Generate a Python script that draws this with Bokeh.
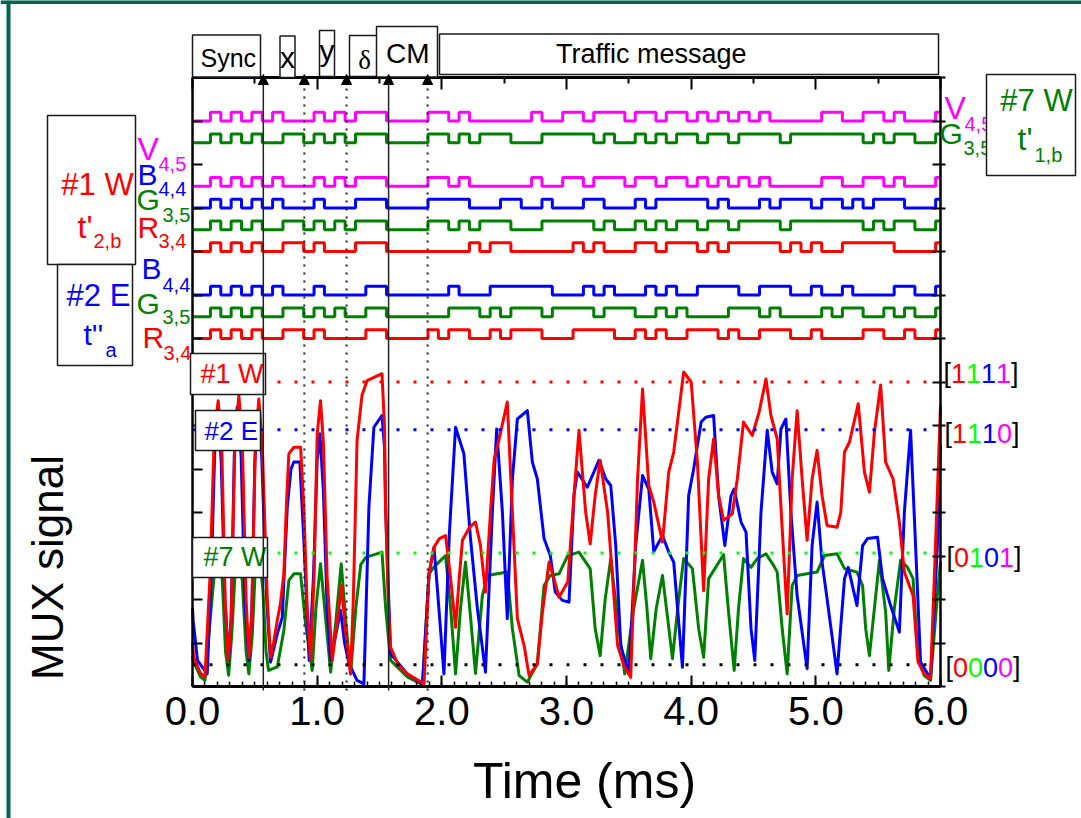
import numpy as np
from bokeh.plotting import figure
from bokeh.models import (Range1d, LinearAxis, FixedTicker, Label, BoxAnnotation,
                          Span, Arrow, NormalHead, PrintfTickFormatter)
from bokeh.embed import file_html
from bokeh.resources import INLINE

# ---------------------------------------------------------------- data
# bit clock of the digital (OOK) traces, in ms
bit_clock_start = 0.144
bit_clock_period = 0.0831
bit_first_index = -2          # first bit shown is index -2

# bit streams, bit index -2 ... 70
bits_V45 = "00" "1010101000" "1010111000" "0110100000" "0100110111" "0110110101" "0101000001" "1001101000" "1"
bits_G35 = "00" "1010100110" "1010111000" "0110101110" "0011111010" "0101011011" "0111101111" "1110101100" "1"
bits_B44_1W = "00" "1010101000" "1000111000" "0111100011" "0010001100" "0101111101" "0001011101" "1010111000" "1"
bits_R34_1W = "00" "1010100110" "1000111000" "0000010110" "0000010100" "0110111010" "1111101010" "0111110000" "1"
bits_B44_2E = "00" "1010101000" "1000011000" "0001000111" "1110001010" "0010100111" "1001110010" "0100001100" "1"
bits_G35_2E = "00" "1010100110" "1010011000" "0001110101" "1101111011" "1001010000" "1110100001" "0110010100" "1"
bits_R34_2E = "00" "1010100110" "1000011000" "0101100101" "1100011110" "0101001110" "1001110010" "0001100100" "1"

# analog MUX signals (time ms, signal)
mux_1W_t = [0.0, 0.01, 0.064, 0.1, 0.14, 0.175, 0.206, 0.235, 0.262, 0.286, 0.31, 0.34, 0.372, 0.40, 0.43, 0.452,
            0.475, 0.505, 0.532, 0.56, 0.60, 0.626, 0.65, 0.68, 0.705, 0.733, 0.755, 0.773, 0.813, 0.867, 0.893,
            0.92, 0.947, 0.975, 1.0, 1.027, 1.05, 1.08, 1.121, 1.16, 1.196, 1.23, 1.268, 1.29, 1.32, 1.36, 1.40,
            1.52, 1.54, 1.549, 1.57, 1.589, 1.65, 1.723, 1.857, 1.897, 1.937, 1.98, 2.03, 2.07, 2.11, 2.14, 2.165,
            2.22, 2.27, 2.31, 2.35, 2.39, 2.42, 2.46, 2.525, 2.566, 2.606, 2.66, 2.70, 2.766, 2.807, 2.86, 2.90,
            2.94, 3.01, 3.06, 3.10, 3.154, 3.19, 3.23, 3.27, 3.33, 3.37, 3.41, 3.46, 3.515, 3.57, 3.61, 3.66, 3.70,
            3.77, 3.82, 3.86, 3.94, 4.0, 4.05, 4.10, 4.14, 4.18, 4.22, 4.26, 4.33, 4.37, 4.42, 4.49, 4.545, 4.60,
            4.64, 4.69, 4.73, 4.77, 4.81, 4.85, 4.89, 4.93, 4.97, 5.01, 5.05, 5.09, 5.17, 5.20, 5.23, 5.27, 5.34,
            5.39, 5.43, 5.47, 5.52, 5.56, 5.62, 5.67, 5.71, 5.78, 5.82, 5.87, 5.92, 5.96, 6.0]
mux_1W_v = [1.0, 0.67, 0.30, 0.22, 2.5, 5.8, 6.57, 5.5, 2.0, 0.6, 1.5, 5.6, 6.69, 5.6, 2.0, 0.67,
            1.6, 5.6, 6.61, 5.5, 2.0, 0.67, 1.0, 1.52, 1.9, 2.6, 4.3, 5.35, 5.5, 5.5, 4.12,
            1.8, 0.6, 2.5, 5.8, 6.57, 5.6, 2.5, 0.6, 1.5, 2.32, 1.2, 0.29, 2.0, 5.66, 6.7, 7.03,
            7.19, 6.0, 4.12, 2.0, 0.9, 0.5, 0.29, 0.06, 2.59, 3.2, 3.4, 3.47, 2.5, 1.36, 2.5, 3.36,
            3.65, 3.78, 3.24, 2.17, 4.0, 5.23, 5.69, 6.54, 4.0, 1.56, 0.94, 0.25, 0.52, 1.71, 2.86, 2.48,
            2.05, 2.4, 4.39, 5.89, 4.0, 3.28, 4.39, 5.2, 4.0, 2.48, 0.94, 0.48, 0.21, 4.77, 6.84, 4.62, 4.24,
            3.32, 4.93, 5.39, 7.23, 7.0, 5.16, 2.2, 4.77, 5.69, 4.39, 3.82, 3.97, 4.77, 6.08, 5.77, 6.31, 7.07,
            6.23, 5.69, 3.63, 1.67, 4.77, 6.34, 4.77, 3.36, 4.77, 5.43, 4.39, 3.7, 3.66, 4.0, 5.39, 5.62, 6.5,
            4.93, 4.47, 5.85, 6.93, 5.16, 4.77, 3.78, 2.63, 2.09, 0.56, 0.29, 0.18, 3.24, 6.46]

mux_2E_t = [0.0, 0.005, 0.04, 0.118, 0.15, 0.18, 0.203, 0.23, 0.26, 0.29, 0.31, 0.335, 0.358, 0.39, 0.42, 0.452,
            0.475, 0.50, 0.525, 0.555, 0.595, 0.626, 0.68, 0.72, 0.76, 0.79, 0.813, 0.861, 0.893, 0.936, 0.97,
            1.0, 1.022, 1.05, 1.08, 1.108, 1.15, 1.188, 1.22, 1.255, 1.32, 1.375, 1.415, 1.455, 1.52, 1.54, 1.549,
            1.589, 1.723, 1.845, 1.897, 1.937, 1.96, 2.017, 2.06, 2.11, 2.177, 2.23, 2.285, 2.35, 2.405, 2.44,
            2.486, 2.525, 2.566, 2.606, 2.686, 2.726, 2.766, 2.82, 2.87, 2.91, 2.967, 3.02, 3.06, 3.087, 3.167,
            3.26, 3.315, 3.355, 3.395, 3.435, 3.50, 3.555, 3.61, 3.66, 3.70, 3.77, 3.82, 3.86, 3.93, 3.98, 4.02,
            4.08, 4.117, 4.18, 4.22, 4.27, 4.32, 4.345, 4.40, 4.44, 4.48, 4.51, 4.56, 4.61, 4.65, 4.69, 4.72,
            4.76, 4.80, 4.85, 4.93, 4.97, 5.01, 5.05, 5.09, 5.17, 5.23, 5.26, 5.33, 5.375, 5.415, 5.495, 5.535,
            5.60, 5.67, 5.71, 5.76, 5.80, 5.84, 5.92, 5.975, 6.0]
mux_2E_v = [1.8, 1.52, 0.6, 0.29, 2.5, 5.6, 6.34, 5.2, 2.0, 0.6, 1.6, 5.3, 6.42, 5.3, 2.0, 0.6,
            1.6, 5.2, 6.34, 5.3, 2.0, 0.56, 1.21, 1.59, 4.12, 5.0, 5.16, 5.16, 3.36, 0.6, 2.5,
            5.2, 5.81, 4.5, 1.8, 0.6, 1.2, 1.75, 1.0, 0.53, 0.14, 0.06, 4.12, 5.96, 6.23, 5.5, 4.12,
            0.75, 0.29, 0.06, 2.59, 3.2, 2.4, 0.29, 3.5, 5.96, 5.35, 3.4, 1.8, 0.33, 4.0, 5.92,
            4.0, 1.56, 4.77, 6.15, 6.34, 5.16, 4.77, 3.4, 3.01, 2.17, 1.98, 1.94, 4.39, 4.93, 4.58,
            5.2, 4.77, 4.62, 3.24, 0.94, 0.29, 3.24, 4.85, 4.54, 3.1, 3.47, 3.09, 2.86, 0.44, 4.39, 5.0,
            6.08, 6.19, 6.23, 4.39, 3.24, 4.39, 4.54, 3.78, 3.55, 1.33, 0.6, 4.0, 5.89, 4.93, 4.66, 5.92,
            6.15, 4.0, 2.09, 0.41, 3.24, 4.24, 2.86, 2.02, 0.29, 2.48, 2.74, 1.86, 3.24, 3.4, 3.43, 2.48,
            1.86, 1.25, 4.0, 5.89, 3.24, 0.56, 0.18, 3.24, 5.54]

mux_7W_t = [0.0, 0.005, 0.064, 0.1, 0.15, 0.185, 0.211, 0.24, 0.265, 0.29, 0.315, 0.345, 0.372, 0.40, 0.43, 0.452,
            0.48, 0.505, 0.532, 0.565, 0.59, 0.61, 0.68, 0.733, 0.773, 0.813, 0.867, 0.907, 0.96, 0.99, 1.027,
            1.06, 1.108, 1.15, 1.193, 1.23, 1.268, 1.31, 1.35, 1.39, 1.52, 1.549, 1.589, 1.723, 1.845, 1.897,
            1.937, 2.03, 2.07, 2.11, 2.15, 2.19, 2.23, 2.27, 2.325, 2.365, 2.525, 2.566, 2.62, 2.686, 2.766, 2.82,
            2.87, 2.94, 3.01, 3.10, 3.154, 3.19, 3.23, 3.27, 3.31, 3.355, 3.40, 3.467, 3.54, 3.61, 3.645, 3.676,
            3.72, 3.77, 3.81, 3.85, 3.90, 3.94, 4.01, 4.06, 4.10, 4.14, 4.19, 4.26, 4.30, 4.345, 4.38, 4.42, 4.48,
            4.53, 4.60, 4.66, 4.69, 4.73, 4.77, 4.81, 4.85, 5.01, 5.07, 5.17, 5.23, 5.33, 5.375, 5.40, 5.43, 5.47,
            5.51, 5.56, 5.585, 5.63, 5.68, 5.735, 5.78, 5.82, 5.87, 5.92, 5.975, 6.0]
mux_7W_v = [0.7, 0.6, 0.22, 0.14, 1.8, 2.9, 3.2, 2.4, 0.8, 0.26, 1.2, 2.8, 3.14, 2.4, 0.8, 0.29,
            1.2, 2.8, 3.1, 2.2, 0.8, 0.37, 0.45, 1.29, 2.44, 2.59, 2.59, 1.44, 0.37, 1.8, 2.82,
            1.8, 0.33, 1.5, 2.82, 1.5, 0.29, 1.8, 2.8, 2.97, 3.09, 1.82, 0.6, 0.22, 0.04, 2.59,
            2.75, 3.01, 1.82, 0.29, 1.8, 2.86, 1.6, 0.3, 2.09, 2.55, 2.63, 1.33, 0.25, 0.1, 0.52, 2.32,
            2.55, 2.59, 3.01, 3.09, 2.86, 2.71, 1.33, 0.71, 2.0, 2.94, 1.8, 0.29, 1.8, 2.9, 1.8, 0.64,
            1.8, 2.55, 1.6, 0.64, 2.0, 2.94, 2.71, 1.33, 0.67, 2.48, 2.71, 3.03, 1.71, 0.37, 1.8, 2.94, 2.74,
            2.94, 3.05, 2.79, 2.63, 1.33, 0.29, 2.32, 2.55, 2.63, 3.01, 3.05, 2.71, 2.63, 2.32, 1.33, 0.71, 1.8,
            2.9, 1.71, 0.37, 1.8, 2.9, 2.74, 2.48, 0.64, 0.25, 0.14, 2.09, 2.86]

# reference levels of the MUX signal (code [R G B V] -> level)
level_codes = ["1111", "1110", "0101", "0000"]
level_values = [7.0, 5.9, 3.07, 0.5]

# frame boundaries (ms)
marker_solid_ms = [0.568, 1.573]
marker_dotted_ms = [0.897, 1.236, 1.886]

x_ticks = [0, 1, 2, 3, 4, 5, 6]
T_MIN, T_MAX = 0.0, 6.0
Y_MIN, Y_MAX = 0.0, 14.0

# ---------------------------------------------------------------- style / layout
RED, GREEN, BLUE, MAG, LIME = "#ff0000", "#008000", "#0000ff", "#ff00ff", "#00ff00"
FONT = "Liberation Sans"
W, H = 1081, 818
# plot box on the page: x 192..940, y 77..686 (pixels)
PX_PER_MS = 748 / 6.0
PX_PER_UNIT = 609 / 14.0


def X(px):
    return (px - 192) / PX_PER_MS


def Y(py):
    return (686 - py) / PX_PER_UNIT


p = figure(width=W, height=H, x_range=Range1d(X(0), X(W)), y_range=Range1d(Y(H), Y(0)),
           output_backend="svg", toolbar_location=None,
           min_border=0, min_border_left=0, min_border_right=0, min_border_top=0, min_border_bottom=0,
           background_fill_color="white", border_fill_color="white",
           styles={"position": "absolute", "left": "0px", "top": "0px"})
p.outline_line_color = None
p.xgrid.visible = False
p.ygrid.visible = False

# bottom axis
xa = p.xaxis[0]
xa.fixed_location = Y_MIN
xa.bounds = (T_MIN, T_MAX)
xa.ticker = FixedTicker(ticks=x_ticks, minor_ticks=list(np.round(np.arange(0, 6.01, 0.1), 2)))
xa.formatter = PrintfTickFormatter(format="%.1f")
xa.major_label_text_font = FONT
xa.major_label_text_font_size = "40px"
xa.major_label_text_color = "black"
xa.major_label_standoff = 10
xa.axis_line_width = 3
xa.major_tick_in, xa.major_tick_out = 11, 0
xa.minor_tick_in, xa.minor_tick_out = 5, 0
xa.major_tick_line_width = 2
xa.minor_tick_line_width = 1.5

# left axis
ya = p.yaxis[0]
ya.fixed_location = T_MIN
ya.bounds = (Y_MIN, Y_MAX)
ya.ticker = FixedTicker(ticks=list(range(0, 15)))
ya.major_label_text_font_size = "0px"
ya.major_label_standoff = 0
ya.axis_line_width = 2.5
ya.major_tick_in, ya.major_tick_out = 10, 0
ya.minor_tick_in = ya.minor_tick_out = 0
ya.major_tick_line_width = 2

# top axis
top = LinearAxis(fixed_location=Y_MAX, bounds=(T_MIN, T_MAX),
                 ticker=FixedTicker(ticks=x_ticks, minor_ticks=[0.5, 1.5, 2.5, 3.5, 4.5, 5.5]),
                 major_label_text_font_size="0px", major_label_standoff=0,
                 axis_line_width=3, major_tick_in=12, major_tick_out=0,
                 minor_tick_in=6, minor_tick_out=0, major_tick_line_width=2, minor_tick_line_width=2)
p.add_layout(top, "above")

# right axis
right = LinearAxis(fixed_location=T_MAX, bounds=(Y_MIN, Y_MAX),
                   ticker=FixedTicker(ticks=list(range(0, 15))),
                   major_label_text_font_size="0px", major_label_standoff=0,
                   axis_line_width=2.5, major_tick_in=8, major_tick_out=5,
                   minor_tick_in=0, minor_tick_out=0, major_tick_line_width=2)
p.add_layout(right, "right")

# page border (dark green)
p.add_layout(Span(location=X(8), dimension="height", line_color="#00664f", line_width=4))
p.add_layout(Span(location=Y(1.5), dimension="width", line_color="#00664f", line_width=4))

# ---------------------------------------------------------------- digital traces
digital = [
    (bits_V45, 13.0, MAG), (bits_G35, 12.5, GREEN),
    (bits_V45, 11.5, MAG), (bits_B44_1W, 11.0, BLUE), (bits_G35, 10.5, GREEN), (bits_R34_1W, 10.0, RED),
    (bits_B44_2E, 9.0, BLUE), (bits_G35_2E, 8.5, GREEN), (bits_R34_2E, 8.0, RED),
]
STEP_H = 0.2
for bits, base, col in digital:
    idx = np.arange(len(bits)) + bit_first_index
    ts = list(bit_clock_start + idx * bit_clock_period)
    ts.append(ts[-1] + bit_clock_period)
    ts = [min(max(t, T_MIN), T_MAX) for t in ts]
    lv = [base + STEP_H * int(b) for b in bits]
    lv.append(lv[-1])
    p.step(ts, lv, mode="after", line_width=3, line_color=col)

# ---------------------------------------------------------------- analog traces
p.line(mux_7W_t, mux_7W_v, line_width=3, line_color=GREEN, line_join="round")
p.line(mux_2E_t, mux_2E_v, line_width=3, line_color=BLUE, line_join="round")
p.line(mux_1W_t, mux_1W_v, line_width=3, line_color=RED, line_join="round")

# reference levels (dotted), limited to the plot box
for lvl, c in zip(level_values, [RED, BLUE, LIME, "black"]):
    p.segment(x0=[T_MIN], y0=[lvl], x1=[T_MAX], y1=[lvl], line_color=c, line_width=3, line_dash="3 14")

BASELINE_SHIFT = 0.31   # em: puts the glyph baseline at the requested pixel row


def lab(text, px, py, size, color="black", align="left", font=FONT):
    p.add_layout(Label(x=X(px), y=Y(py - BASELINE_SHIFT * size), text=text, text_font_size=f"{size}px",
                       text_color=color, text_align=align, text_baseline="alphabetic", text_font=font))


def box(l, r, t, b):
    p.add_layout(BoxAnnotation(left=X(l), right=X(r), top=Y(t), bottom=Y(b), fill_color="white",
                               fill_alpha=1.0, line_color="#1a1a1a", line_alpha=1.0, line_width=1.5))


# trace labels (left)
lab("V", 137, 158, 32, MAG); lab("4,5", 158, 170, 20, MAG)
lab("B", 137, 183, 30, BLUE); lab("4,4", 158, 195, 20, BLUE)
lab("G", 136, 208, 30, GREEN); lab("3,5", 162, 221, 20, GREEN)
lab("R", 137, 236, 30, RED); lab("3,4", 158, 247, 20, RED)
lab("B", 141, 277, 30, BLUE); lab("4,4", 162, 291, 20, BLUE)
lab("G", 136, 312, 30, GREEN); lab("3,5", 162, 323, 20, GREEN)
lab("R", 142, 346, 30, RED); lab("3,4", 163, 359, 20, RED)
# trace labels (right)
lab("V", 944, 117, 32, MAG); lab("4,5", 964, 130, 20, MAG)
lab("G", 939, 142, 30, GREEN); lab("3,5", 963, 154, 20, GREEN)

# level codes on the right
code_colors = [RED, LIME, BLUE, MAG]
for code, py, x0 in zip(level_codes, [381, 441, 565, 675], [943, 944, 946, 945]):
    fs = 27
    x = x0
    lab("[", x, py, fs, "black"); x += 0.278 * fs
    for ch, c in zip(code, code_colors):
        lab(ch, x, py, fs, c); x += 0.556 * fs
    lab("]", x, py, fs, "black")

# user boxes (left / right)
box(47, 135, 115, 264)
lab("#1 W", 97, 194, 31, RED, align="center")
lab("t'", 77, 236, 32, RED); lab("2,b", 93, 247, 20, RED)
box(57, 132, 264, 365)
lab("#2 E", 98, 305, 31, BLUE, align="center")
lab("t''", 83, 343, 30, BLUE); lab("a", 105, 356, 20, BLUE)
box(986, 1075, 74, 175)
lab("#7 W", 1036, 110, 31, GREEN, align="center")
lab("t'", 1017, 148, 32, GREEN); lab("1,b", 1034, 161, 20, GREEN)

# in-plot level tags
box(190, 265, 353, 394); lab("#1 W", 200, 382, 27, RED)
box(195, 260, 410, 450); lab("#2 E", 204, 439, 26, BLUE)
box(192, 267, 537, 577); lab("#7 W", 203, 565, 27, GREEN)

# frame structure boxes on top
box(192, 260, 34.5, 76.5); lab("Sync", 200, 65, 25)
box(279.5, 294.5, 35.5, 77); lab("x", 287, 66, 30, align="center")
box(319, 334, 30, 76); lab("y", 326.5, 59, 30, align="center")
box(349, 380, 35, 76); lab("\u03b4", 364, 68, 27, align="center", font="Liberation Serif")
box(376, 437, 26, 76.5); lab("CM", 385.5, 62, 28)
box(439, 938, 33.5, 74); lab("Traffic message", 555.5, 62, 27)

# frame boundaries with arrows
for t in marker_solid_ms:
    p.add_layout(Arrow(x_start=t, y_start=Y(690), x_end=t, y_end=Y(74), line_width=1.5, line_color="#222222",
                       end=NormalHead(size=10, fill_color="black", line_color="black")))
for t in marker_dotted_ms:
    p.add_layout(Arrow(x_start=t, y_start=Y(690), x_end=t, y_end=Y(74), line_width=2, line_color="#222222",
                       line_dash="2 6", end=NormalHead(size=10, fill_color="black", line_color="black")))

# axis titles
lab("Time (ms)", 584, 796, 50, align="center")
p.add_layout(Label(x=X(47), y=Y(567), text="MUX signal", text_font_size="44px", text_color="black",
                   text_align="center", text_baseline="middle", text_font=FONT, angle=np.pi / 2))

open("out.html", "w").write(file_html(p, INLINE))
